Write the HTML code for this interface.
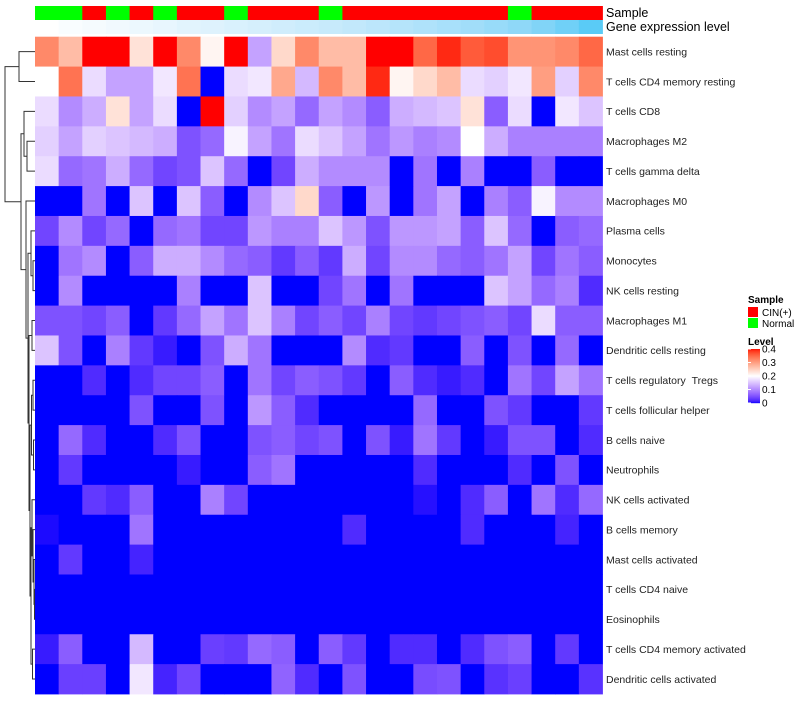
<!DOCTYPE html>
<html><head><meta charset="utf-8"><style>
html,body{margin:0;padding:0;background:#fff;}
svg text{font-family:"Liberation Sans",Arial,sans-serif;}
</style></head><body>
<svg id="chart" width="800" height="700" viewBox="0 0 800 700" xmlns="http://www.w3.org/2000/svg">
<g id="dendro"></g>
<g id="anno"></g>
<g id="cells"></g>
<g id="rowlabels"></g>
<text x="606" y="17" font-size="12.5" fill="#000">Sample</text>
<text x="606" y="31" font-size="12.5" fill="#000">Gene expression level</text>
<g>
<text x="748" y="303" font-size="10" font-weight="bold">Sample</text>
<rect x="748" y="307" width="10" height="10" fill="#ff0000"/>
<text x="762" y="316" font-size="10">CIN(+)</text>
<rect x="748" y="318" width="10" height="10" fill="#00ff00"/>
<text x="762" y="327" font-size="10">Normal</text>
<text x="748" y="345" font-size="10" font-weight="bold">Level</text>
<g id="colorbar"></g>
</g>
</svg>
<script>
const rowNames=["Mast cells resting","T cells CD4 memory resting","T cells CD8","Macrophages M2","T cells gamma delta","Macrophages M0","Plasma cells","Monocytes","NK cells resting","Macrophages M1","Dendritic cells resting","T cells regulatory \u00a0Tregs","T cells follicular helper","B cells naive","Neutrophils","NK cells activated","B cells memory","Mast cells activated","T cells CD4 naive","Eosinophils","T cells CD4 memory activated","Dendritic cells activated"];
const sampleGroup=["N","N","C","N","C","N","C","C","N","C","C","C","N","C","C","C","C","C","C","C","N","C","C","C"];
const geneExpr=[0,0.04,0.07,0.1,0.13,0.16,0.2,0.23,0.26,0.29,0.32,0.35,0.38,0.41,0.45,0.49,0.53,0.57,0.61,0.66,0.71,0.78,0.86,0.95];
const r1=[0.32,0.27,0.4,0.4,0.23,0.4,0.32,0.21,0.4,0.12,0.24,0.32,0.27,0.27,0.4,0.4,0.35,0.39,0.36,0.37,0.31,0.31,0.32,0.35];
const r2=[0.2,0.34,0.17,0.12,0.12,0.18,0.34,0,0.17,0.18,0.29,0.14,0.32,0.27,0.39,0.21,0.24,0.27,0.17,0.16,0.18,0.3,0.16,0.32];
const r3=[0.17,0.1,0.13,0.23,0.12,0.17,0,0.4,0.16,0.1,0.12,0.07,0.12,0.1,0.06,0.13,0.14,0.15,0.23,0.06,0.17,0,0.18,0.15];
const r4=[0.16,0.12,0.16,0.15,0.14,0.13,0.05,0.07,0.19,0.12,0.08,0.17,0.15,0.12,0.08,0.11,0.09,0.1,0.2,0.13,0.09,0.09,0.09,0.09];
const r5=[0.17,0.07,0.08,0.13,0.07,0.04,0.05,0.15,0.07,0,0.04,0.13,0.1,0.1,0.1,0,0.08,0,0.09,0,0,0.06,0,0];
const r6=[0,0,0.08,0,0.15,0,0.15,0.06,0,0.1,0.15,0.24,0.06,0,0.11,0,0.08,0.12,0,0.09,0.06,0.19,0.1,0.1];
const r7=[0.04,0.1,0.04,0.07,0,0.07,0.08,0.04,0.04,0.11,0.09,0.09,0.15,0.11,0.05,0.11,0.11,0.12,0.06,0.15,0.07,0,0.06,0.07];
const r8=[0,0.08,0.1,0,0.06,0.13,0.13,0.1,0.07,0.06,0.03,0.06,0.03,0.13,0.04,0.1,0.1,0.07,0.06,0.08,0.12,0.04,0.08,0.06];
const r9=[0,0.1,0,0,0,0,0.09,0,0,0.15,0,0,0.04,0.08,0,0.08,0,0,0,0.15,0.12,0.07,0.09,0.02];
const r10=[0.05,0.05,0.04,0.06,0,0.03,0.07,0.12,0.08,0.15,0.09,0.04,0.06,0.04,0.09,0.04,0.03,0.04,0.05,0.06,0.04,0.17,0.06,0.06];
const r11=[0.15,0.05,0,0.09,0.03,0.01,0,0.05,0.13,0.08,0,0,0,0.1,0.02,0.03,0,0,0.06,0,0.05,0,0.07,0];
const r12=[0,0,0.02,0,0.02,0.04,0.04,0.06,0,0.08,0.04,0.06,0.05,0.03,0,0.06,0.02,0.01,0.02,0,0.08,0.04,0.12,0.08];
const r13=[0,0,0,0,0.05,0,0,0.05,0,0.11,0.06,0.02,0,0,0,0,0.07,0,0,0.05,0.03,0,0,0.03];
const r14=[0,0.07,0.02,0,0,0.02,0.05,0,0,0.05,0.06,0.04,0.05,0,0.05,0.01,0.08,0.03,0,0.01,0.05,0.05,0,0.02];
const r15=[0,0.03,0,0,0,0,0.01,0,0,0.06,0.08,0,0,0,0,0,0.02,0,0,0,0.02,0,0.05,0];
const r16=[0,0,0.03,0.02,0.06,0,0,0.09,0.04,0,0,0,0,0,0,0,0.005,0,0.02,0.06,0,0.08,0.02,0.07];
const r17=[0.003,0,0,0,0.08,0,0,0,0,0,0,0,0,0.02,0,0,0,0,0.02,0,0,0,0.015,0];
const r18=[0,0.03,0,0,0.015,0,0,0,0,0,0,0,0,0,0,0,0,0,0,0,0,0,0,0];
const r19=[0,0,0,0,0,0,0,0,0,0,0,0,0,0,0,0,0,0,0,0,0,0,0,0];
const r20=[0,0,0,0,0,0,0,0,0,0,0,0,0,0,0,0,0,0,0,0,0,0,0,0];
const r21=[0.01,0.06,0,0,0.14,0,0,0.035,0.03,0.07,0.06,0,0.06,0.03,0,0.02,0.02,0,0.02,0.05,0.06,0,0.03,0];
const r22=[0,0.035,0.035,0,0.18,0.015,0.04,0,0,0,0.065,0.02,0,0.05,0,0,0.045,0.05,0,0.025,0.035,0,0,0.025];
const levelTicks=[0,0.1,0.2,0.3,0.4];
const matrix=[r1,r2,r3,r4,r5,r6,r7,r8,r9,r10,r11,r12,r13,r14,r15,r16,r17,r18,r19,r20,r21,r22];

const NS="http://www.w3.org/2000/svg";
function mk(tag,attrs,parent){const e=document.createElementNS(NS,tag);for(const k in attrs)e.setAttribute(k,attrs[k]);parent.appendChild(e);return e;}
function s2l(c){c/=255;return c<=0.04045?c/12.92:Math.pow((c+0.055)/1.055,2.4);}
function l2s(c){c=c<=0.0031308?12.92*c:1.055*Math.pow(c,1/2.4)-0.055;return Math.max(0,Math.min(255,Math.round(c*255)));}
function toLab(rgb){const r=s2l(rgb[0]),g=s2l(rgb[1]),b=s2l(rgb[2]);
let x=(0.4124*r+0.3576*g+0.1805*b)/0.95047,y=0.2126*r+0.7152*g+0.0722*b,z=(0.0193*r+0.1192*g+0.9505*b)/1.08883;
const f=t=>t>0.008856?Math.cbrt(t):7.787*t+16/116;const fx=f(x),fy=f(y),fz=f(z);return [116*fy-16,500*(fx-fy),200*(fy-fz)];}
function fromLab(l){const fy=(l[0]+16)/116,fx=fy+l[1]/500,fz=fy-l[2]/200;const fi=t=>t*t*t>0.008856?t*t*t:(t-16/116)/7.787;
const x=fi(fx)*0.95047,y=fi(fy),z=fi(fz)*1.08883;
const r=3.2406*x-1.5372*y-0.4986*z,g=-0.9689*x+1.8758*y+0.0415*z,b=0.0557*x-0.2040*y+1.0570*z;return `rgb(${l2s(r)},${l2s(g)},${l2s(b)})`;}
const LB=toLab([0,0,255]),LW=toLab([255,255,255]),LR=toLab([255,0,0]);
function col(v){v=Math.max(0,Math.min(0.4,v));let a,b,t;if(v<=0.2){a=LB;b=LW;t=v/0.2;}else{a=LW;b=LR;t=(v-0.2)/0.2;}
return fromLab([a[0]+(b[0]-a[0])*t,a[1]+(b[1]-a[1])*t,a[2]+(b[2]-a[2])*t]);}
const LG0=toLab([255,255,255]),LG1=toLab([75,200,245]);
function gcol(t){return fromLab([LG0[0]+(LG1[0]-LG0[0])*t,LG0[1]+(LG1[1]-LG0[1])*t,LG0[2]+(LG1[2]-LG0[2])*t]);}

const X0=35,X1=602.5,Y0=36.7,Y1=694;
const nC=r1.length,nR=matrix.length;
const cw=(X1-X0)/nC,rh=(Y1-Y0)/nR;
const xOf=j=>X0+j*cw, yOf=i=>Y0+i*rh;

const cells=document.getElementById('cells');
matrix.forEach((row,i)=>row.forEach((v,j)=>{
 const r=mk('rect',{x:xOf(j).toFixed(2),y:yOf(i).toFixed(2),width:(cw+0.4).toFixed(2),height:(rh+0.4).toFixed(2),fill:col(v)},cells);
 
 
}));
const anno=document.getElementById('anno');
sampleGroup.forEach((g,j)=>{
 const r=mk('rect',{x:xOf(j).toFixed(2),y:6,width:(cw+0.4).toFixed(2),height:14,fill:g==="C"?"#ff0000":"#00ff00"},anno);
 
 
});
geneExpr.forEach((t,j)=>{
 const r=mk('rect',{x:xOf(j).toFixed(2),y:20,width:(cw+0.4).toFixed(2),height:14,fill:gcol(t)},anno);
 
 
});
const rl=document.getElementById('rowlabels');
rowNames.forEach((n,i)=>{
 const t=mk('text',{x:606,y:(yOf(i)+rh/2+3.8).toFixed(1),'font-size':'10.5',fill:'#222'},rl);
 t.textContent=n;
 
 
});
const tree=[5,[19,1,2],[21,[24,3,[27,4,5]],[26,6,[28,[31,7,[33,8,9]],[29,[32,10,11],[30,[31.5,[33,12,13],[33.5,14,15]],[31,[32,16,[33,17,[34,18,[34.5,19,20]]]],[32.5,21,22]]]]]]]];
const dg=document.getElementById('dendro');
function draw(node){
 if(typeof node==="number")return {y:yOf(node-1)+rh/2,x:X0};
 const a=draw(node[1]),b=draw(node[2]),x=node[0];
 const p=mk('path',{d:`M${a.x},${a.y}H${x}V${b.y}H${b.x}`,fill:'none',stroke:'#333','stroke-width':1},dg);
 
 
 return {x:x,y:(a.y+b.y)/2};
}
draw(tree);
const cb=document.getElementById('colorbar');
const cbTop=349,cbBot=403;
for(let k=0;k<54;k++){
 const v=0.4-(k+0.5)/54*0.4;
 const r=mk('rect',{x:748,y:(cbTop+k).toFixed(1),width:12,height:1.2,fill:col(v)},cb);
 
 
}
levelTicks.forEach(v=>{
 const y=cbBot-(v/0.4)*(cbBot-cbTop);
 const t=mk('text',{x:762,y:(y+3.5).toFixed(1),'font-size':'10'},cb);
 t.textContent=v===0?"0":String(v);
 
 
 const l=mk('line',{x1:748,x2:751,y1:y,y2:y,stroke:'#fff','stroke-width':1},cb);
 
 
});
</script>
</body></html>
